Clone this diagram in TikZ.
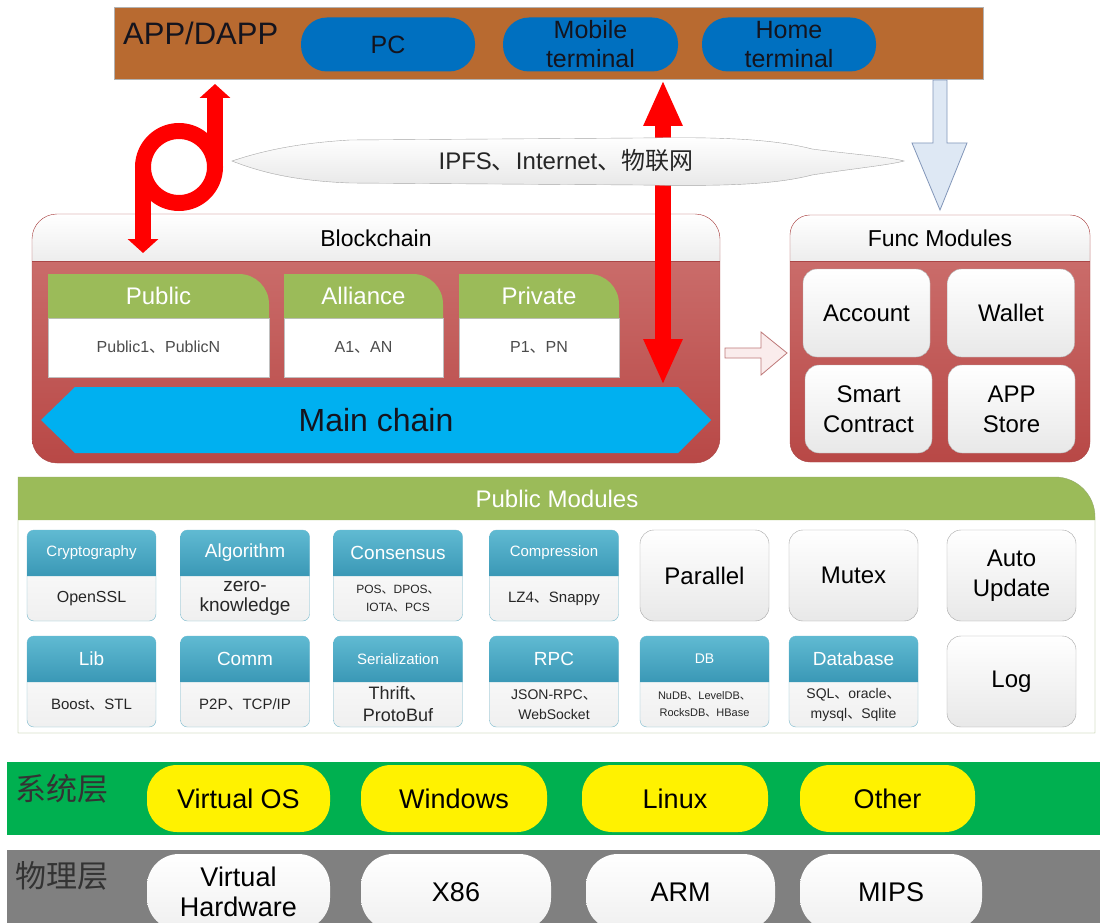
\documentclass[tikz,border=0pt]{standalone}
\usepackage{fontspec}
\setmainfont{Liberation Sans}
\newfontfamily\cjk{Noto Sans CJK SC}
\usetikzlibrary{arrows.meta}
\newcommand\dun{{\cjk 、}}
\newcommand\fs[2]{\fontsize{#1}{#2}\selectfont}
\definecolor{appbar}{RGB}{184,106,48}
\definecolor{pillblue}{RGB}{0,112,192}
\definecolor{bcredA}{RGB}{206,116,114}
\definecolor{bcredB}{RGB}{184,72,70}
\definecolor{bcedge}{RGB}{170,70,70}
\definecolor{lgreen}{RGB}{155,187,89}
\definecolor{tealA}{RGB}{96,186,210}
\definecolor{tealB}{RGB}{58,152,182}
\definecolor{tealedge}{RGB}{120,185,205}
\definecolor{cyanchain}{RGB}{0,176,240}
\definecolor{sysgreen}{RGB}{0,176,80}
\definecolor{phygray}{RGB}{128,128,128}
\definecolor{pmedge}{RGB}{150,170,110}
\definecolor{hollowblue}{RGB}{222,232,244}
\definecolor{hollowblueedge}{RGB}{130,150,185}
\definecolor{hollowred}{RGB}{250,236,236}
\definecolor{hollowrededge}{RGB}{190,120,120}
\definecolor{darktext}{RGB}{20,20,30}
\tikzset{
  hdtext/.style={text=white, align=center, inner sep=0pt},
  bdtext/.style={text=black!85, align=center, inner sep=0pt},
  gtext/.style={text=black, align=center, inner sep=0pt},
  bluepill/.style={fill=pillblue, rounded corners=26, minimum height=54, inner sep=0pt, align=center, text=darktext, font=\fs{25}{29}},
  yelpill/.style={fill=yellow, rounded corners=30, minimum height=67, inner sep=0pt, align=center, text=black, font=\fs{27}{30}},
  whtpill/.style={top color=white, bottom color=gray!12, rounded corners=32, minimum height=76, inner sep=0pt, align=center, text=black, font=\fs{27}{30}},
  fbox/.style={draw=gray!60, top color=white, bottom color=gray!18, rounded corners=14, minimum width=127, minimum height=88, inner sep=0pt, align=center, font=\fs{24}{30}},
  redarrow/.style={draw=red, line width=16, -{Triangle[width=30,length=14]}},
}
% name, cx, ytop, header font, header text, body font, body text
\newcommand\tcard[7]{%
  \path[draw=tealedge, top color=white, bottom color=gray!12, rounded corners=7] ({#2-64.5},#3) rectangle ({#2+64.5},{#3+91});
  \path[top color=tealA, bottom color=tealB] ({#2-64.5},{#3+46}) [rounded corners=7] -- ({#2-64.5},#3) -- ({#2+64.5},#3) [sharp corners] -- ({#2+64.5},{#3+46}) -- cycle;
  \node[hdtext, font=#4] (#1h) at (#2,{#3+23}) {#5};
  \node[bdtext, font=#6] (#1b) at (#2,{#3+68.5}) {#7};
}
% name, cx, ytop, font, text
\newcommand\gcard[5]{%
  \path[draw=gray!70, top color=white, bottom color=gray!18, rounded corners=14] ({#2-64.5},#3) rectangle ({#2+64.5},{#3+91});
  \node[gtext, font=#4] (#1) at (#2,{#3+45.5}) {#5};
}
\newcommand\chcard[5]{%
  \path[fill=white, draw=gray!50] (#2,318) rectangle (#3,377);
  \path[fill=lgreen] (#2,318) -- (#2,274) [rounded corners=30] -- (#3,274) [sharp corners] -- (#3,318) -- cycle;
  \node[hdtext, font=\fs{24}{26}] (#1h) at ({(#2+#3)/2},296) {#4};
  \node[bdtext, text=black!70, font=\fs{16}{18}] (#1b) at ({(#2+#3)/2},347.5) {#5};
}
\begin{document}
\begin{tikzpicture}[x=1pt,y=-1pt]
\path[use as bounding box, fill=white] (0,0) rectangle (1100,923);

% ---------- top bar ----------
\path[draw=gray!60, fill=appbar] (114,7) rectangle (983,79);
\node[anchor=west, inner sep=0pt, text=darktext, font=\fs{31}{33}] (app) at (123,33) {APP/DAPP};
\node[bluepill, minimum width=174] (pc) at (388,44.5) {PC};
\node[bluepill, minimum width=175] (mob) at (590.5,44.5) {Mobile\\terminal};
\node[bluepill, minimum width=174] (home) at (789,44.5) {Home\\terminal};

% ---------- blockchain ----------
\path[top color=bcredA, bottom color=bcredB, rounded corners=25] (32,214) rectangle (720,463);
\path[top color=white, bottom color=gray!14] (32,261) [rounded corners=25] -- (32,214) -- (720,214) [sharp corners] -- (720,261) -- cycle;
\draw[bcedge, rounded corners=25] (32,214) rectangle (720,463);
\draw[bcedge] (32,261) -- (720,261);
\node[inner sep=0pt, font=\fs{23}{25}] (bc) at (376,238) {Blockchain};
\chcard{pub}{48}{269}{Public}{Public1\dun PublicN}
\chcard{all}{284}{443}{Alliance}{A1\dun AN}
\chcard{pri}{459}{619}{Private}{P1\dun PN}
\path[fill=cyanchain] (41,420) -- (75,387) -- (678,387) -- (711,420) -- (678,453) -- (75,453) -- cycle;
\node[inner sep=0pt, text=darktext, font=\fs{32}{34}] (main) at (376,420) {Main chain};

% ---------- func modules ----------
\path[top color=bcredA, bottom color=bcredB, rounded corners=20] (790,215) rectangle (1090,462);
\path[top color=white, bottom color=gray!14] (790,261) [rounded corners=20] -- (790,215) -- (1090,215) [sharp corners] -- (1090,261) -- cycle;
\draw[bcedge, rounded corners=20] (790,215) rectangle (1090,462);
\draw[bcedge] (790,261) -- (1090,261);
\node[inner sep=0pt, font=\fs{23}{25}] (fm) at (940,238) {Func Modules};
\node[fbox] (acc) at (866.5,313) {Account};
\node[fbox] (wal) at (1011,313) {Wallet};
\node[fbox] (sc) at (868.5,409) {Smart\\Contract};
\node[fbox] (store) at (1011.5,409) {APP\\Store};

% ---------- public modules ----------
\path[fill=white] (18,733) -- (18,477) [rounded corners=40] -- (1095,477) [sharp corners] -- (1095,733) -- cycle;
\path[fill=lgreen] (18,520) -- (18,477) [rounded corners=40] -- (1095,477) [sharp corners] -- (1095,520) -- cycle;
\draw[pmedge] (18,733) -- (18,477) [rounded corners=40] -- (1095,477) [sharp corners] -- (1095,733) -- cycle;
\node[hdtext, font=\fs{24}{26}] (pm) at (557,499) {Public Modules};

\tcard{crypto}{91.5}{530}{\fs{15}{17}}{Cryptography}{\fs{16}{18}}{OpenSSL}
\tcard{algo}{245}{530}{\fs{19}{21}}{Algorithm}{\fs{19}{20}}{zero-\\knowledge}
\tcard{cons}{398}{530}{\fs{19}{21}}{Consensus}{\fs{12}{18}}{POS\dun DPOS\dun\\IOTA\dun PCS}
\tcard{comp}{554}{530}{\fs{15}{17}}{Compression}{\fs{15}{17}}{LZ4\dun Snappy}
\gcard{para}{704.5}{530}{\fs{24}{28}}{Parallel}
\gcard{mutex}{853.5}{530}{\fs{24}{28}}{Mutex}
\gcard{auto}{1011.5}{530}{\fs{24}{30}}{Auto\\Update}
\tcard{lib}{91.5}{636}{\fs{19}{21}}{Lib}{\fs{15}{17}}{Boost\dun STL}
\tcard{comm}{245}{636}{\fs{19}{21}}{Comm}{\fs{15}{17}}{P2P\dun TCP/IP}
\tcard{ser}{398}{636}{\fs{15}{17}}{Serialization}{\fs{18}{22}}{Thrift\dun\\ProtoBuf}
\tcard{rpc}{554}{636}{\fs{19}{21}}{RPC}{\fs{14}{20}}{JSON-RPC\dun\\WebSocket}
\tcard{db}{704.5}{636}{\fs{14}{17}}{DB}{\fs{11}{17}}{NuDB\dun LevelDB\dun\\RocksDB\dun HBase}
\tcard{dbase}{853.5}{636}{\fs{19}{21}}{Database}{\fs{14}{20}}{SQL\dun oracle\dun\\mysql\dun Sqlite}
\gcard{log}{1011.5}{636}{\fs{24}{28}}{Log}

% ---------- layers ----------
\path[fill=sysgreen] (7,762) rectangle (1100,835);
\node[anchor=west, inner sep=0pt, text=black!80, font=\cjk\fs{31}{33}] (sys) at (15,789) {系统层};
\node[yelpill, minimum width=183] (vos) at (238.5,798.5) {Virtual OS};
\node[yelpill, minimum width=186] (win) at (454,798.5) {Windows};
\node[yelpill, minimum width=186] (lin) at (675,798.5) {Linux};
\node[yelpill, minimum width=175] (oth) at (887.5,798.5) {Other};

\path[fill=phygray] (7,850) rectangle (1100,923);
\node[anchor=west, inner sep=0pt, text=black!80, font=\cjk\fs{31}{33}] (phy) at (15,876) {物理层};
\node[whtpill, minimum width=183] (vhw) at (238.5,892) {Virtual\\Hardware};
\node[whtpill, minimum width=190] (x86) at (456,892) {X86};
\node[whtpill, minimum width=189] (arm) at (680.5,892) {ARM};
\node[whtpill, minimum width=182] (mips) at (891,892) {MIPS};

% ---------- connectors ----------
\coordinate (looptop) at (215,84);
\coordinate (loopbot) at (143,253);
\coordinate (loopR) at (215,167);
\coordinate (loopL) at (143,167);
\draw[red, line width=16] (179,167) circle (36);
\draw[redarrow] (loopR) -- (looptop);
\draw[redarrow] (loopL) -- (loopbot);

\coordinate (ra1) at (663,80);
\coordinate (ra2) at (663,385);
\draw[red, line width=16, {Triangle[width=36,length=46]}-{Triangle[width=36,length=46]}] (ra1) -- (ra2);

% ---------- ribbon (over the red arrow) ----------
\path[draw=gray!70, top color=white, bottom color=gray!18]
  (232,161) .. controls (265,150) and (300,143) .. (350,140)
  -- (640,138) .. controls (710,137) and (770,138) .. (812,149)
  .. controls (850,154) and (890,157) .. (904,161)
  .. controls (890,165) and (850,169) .. (812,175)
  .. controls (770,186) and (710,186) .. (640,185)
  -- (350,183) .. controls (300,181) and (265,174) .. (232,161) -- cycle;
\node[inner sep=0pt, text=black!85, font=\fs{24}{26}] (net) at (566,160) {IPFS\dun Internet\dun{\cjk 物联网}};

% hollow down arrow (APP bar -> Func Modules)
\path[fill=hollowblue, draw=hollowblueedge, line width=0.8]
  (933,80) -- (947,80) -- (947,143) -- (967,143) -- (940,210) -- (912,143) -- (933,143) -- cycle;
% hollow right arrow (Blockchain -> Func Modules)
\path[fill=hollowred, draw=hollowrededge, line width=0.8]
  (725,348) -- (761,348) -- (761,332) -- (787,353) -- (761,375) -- (761,358) -- (725,358) -- cycle;
\end{tikzpicture}
\end{document}
